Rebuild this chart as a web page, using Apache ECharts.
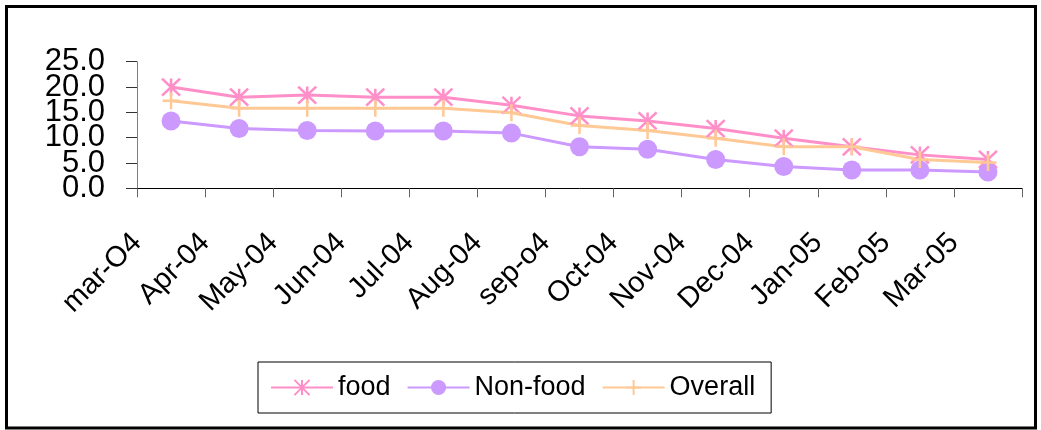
<!DOCTYPE html>
<html>
<head>
<meta charset="utf-8">
<script src="https://cdn.jsdelivr.net/npm/echarts@6/dist/echarts.min.js"></script>
<style>
html,body{margin:0;padding:0;background:#fff;}
#chart{width:1041px;height:430px;}
</style>
</head>
<body>
<div id="chart"></div>
<script>
// ---- data ----
const categories = ['mar-O4','Apr-04','May-04','Jun-04','Jul-04','Aug-04','sep-o4','Oct-04','Nov-04','Dec-04','Jan-05','Feb-05','Mar-05'];
const food    = [20.0, 18.0, 18.4, 18.0, 18.0, 16.4, 14.3, 13.3, 11.8, 9.9, 8.2, 6.6, 5.7];
const nonFood = [13.3, 11.8, 11.4, 11.3, 11.3, 10.9, 8.2, 7.7, 5.7, 4.3, 3.6, 3.6, 3.2];
const overall = [17.3, 15.8, 15.8, 15.8, 15.8, 14.9, 12.4, 11.4, 9.9, 8.2, 8.2, 5.7, 5.1];
const seriesNames = ['food', 'Non-food', 'Overall'];
const yLabelsA = [0, 10, 20];
const yLabelsB = [5, 15, 25];

const FONT = '"Liberation Sans", Arial, sans-serif';
const PINK = '#ff8fc8', PURPLE = '#cc99ff', ORANGE = '#ffc996';
const STAR = 'path://M0,0L20,20M20,0L0,20M10,0L10,20';
const PLUS = 'path://M10,0L10,20M0,10L20,10';

function yLab(list) {
  return {margin: 32, fontSize: 31, color: '#000', fontFamily: FONT,
    showMinLabel: true, showMaxLabel: true, hideOverlap: false,
    formatter: v => list.includes(v) ? v.toFixed(1) : ''};
}

const chart = echarts.init(document.getElementById('chart'), null, {renderer: 'canvas'});
chart.setOption({
  animation: false,
  backgroundColor: '#fff',
  textStyle: {fontFamily: FONT},
  graphic: [{
    type: 'rect', silent: true, z: 100,
    shape: {x: 6.5, y: 6.5, width: 1029, height: 421.5},
    style: {fill: 'none', stroke: '#000', lineWidth: 3}
  }],
  grid: [
    {left: 137, right: 19, top: 61.7, bottom: 241.7},
    {left: 137, right: 19, top: 61.7, bottom: 241.7}
  ],
  legend: {
    left: 258, top: 362,
    padding: [12, 16, 12, 12],
    borderColor: '#000', borderWidth: 1,
    itemWidth: 62, itemHeight: 19, itemGap: 16,
    textStyle: {fontSize: 27, color: '#000', fontFamily: FONT},
    data: seriesNames
  },
  xAxis: [{
    type: 'category', gridIndex: 0, data: categories, boundaryGap: true,
    axisLine: {lineStyle: {color: '#000', width: 1}},
    axisTick: {show: true, length: 9, interval: 0, lineStyle: {color: '#666'}},
    axisLabel: {show: false},
    splitLine: {show: false}
  }, {
    type: 'category', gridIndex: 1, data: categories.concat(['']), boundaryGap: false,
    axisLine: {show: false}, axisTick: {show: false}, splitLine: {show: false},
    axisLabel: {interval: 0, rotate: 45, margin: 50, fontSize: 29, color: '#000', fontFamily: FONT}
  }],
  yAxis: [{
    type: 'value', gridIndex: 0, min: 0, max: 25, interval: 5,
    axisLine: {show: true, lineStyle: {color: '#808080', width: 1}},
    axisTick: {show: true, inside: false, length: 11, lineStyle: {color: '#333', width: 1}},
    splitLine: {show: false},
    axisLabel: yLab(yLabelsA)
  }, {
    type: 'value', gridIndex: 1, min: 0, max: 25, interval: 5,
    axisLine: {show: false},
    axisTick: {show: true, inside: false, length: 11, lineStyle: {color: '#333', width: 1}},
    splitLine: {show: false},
    axisLabel: yLab(yLabelsB)
  }],
  series: [{
    name: seriesNames[0], type: 'line', data: food,
    symbol: STAR, symbolSize: [18, 17],
    lineStyle: {color: PINK, width: 3},
    itemStyle: {color: PINK, borderColor: PINK, borderWidth: 2.5}
  }, {
    name: seriesNames[1], type: 'line', data: nonFood,
    symbol: 'circle', symbolSize: 19,
    lineStyle: {color: PURPLE, width: 3},
    itemStyle: {color: PURPLE, borderWidth: 0}
  }, {
    name: seriesNames[2], type: 'line', data: overall,
    symbol: PLUS, symbolSize: 17,
    lineStyle: {color: ORANGE, width: 3},
    itemStyle: {color: ORANGE, borderColor: ORANGE, borderWidth: 2.5}
  }]
});
</script>
</body>
</html>
